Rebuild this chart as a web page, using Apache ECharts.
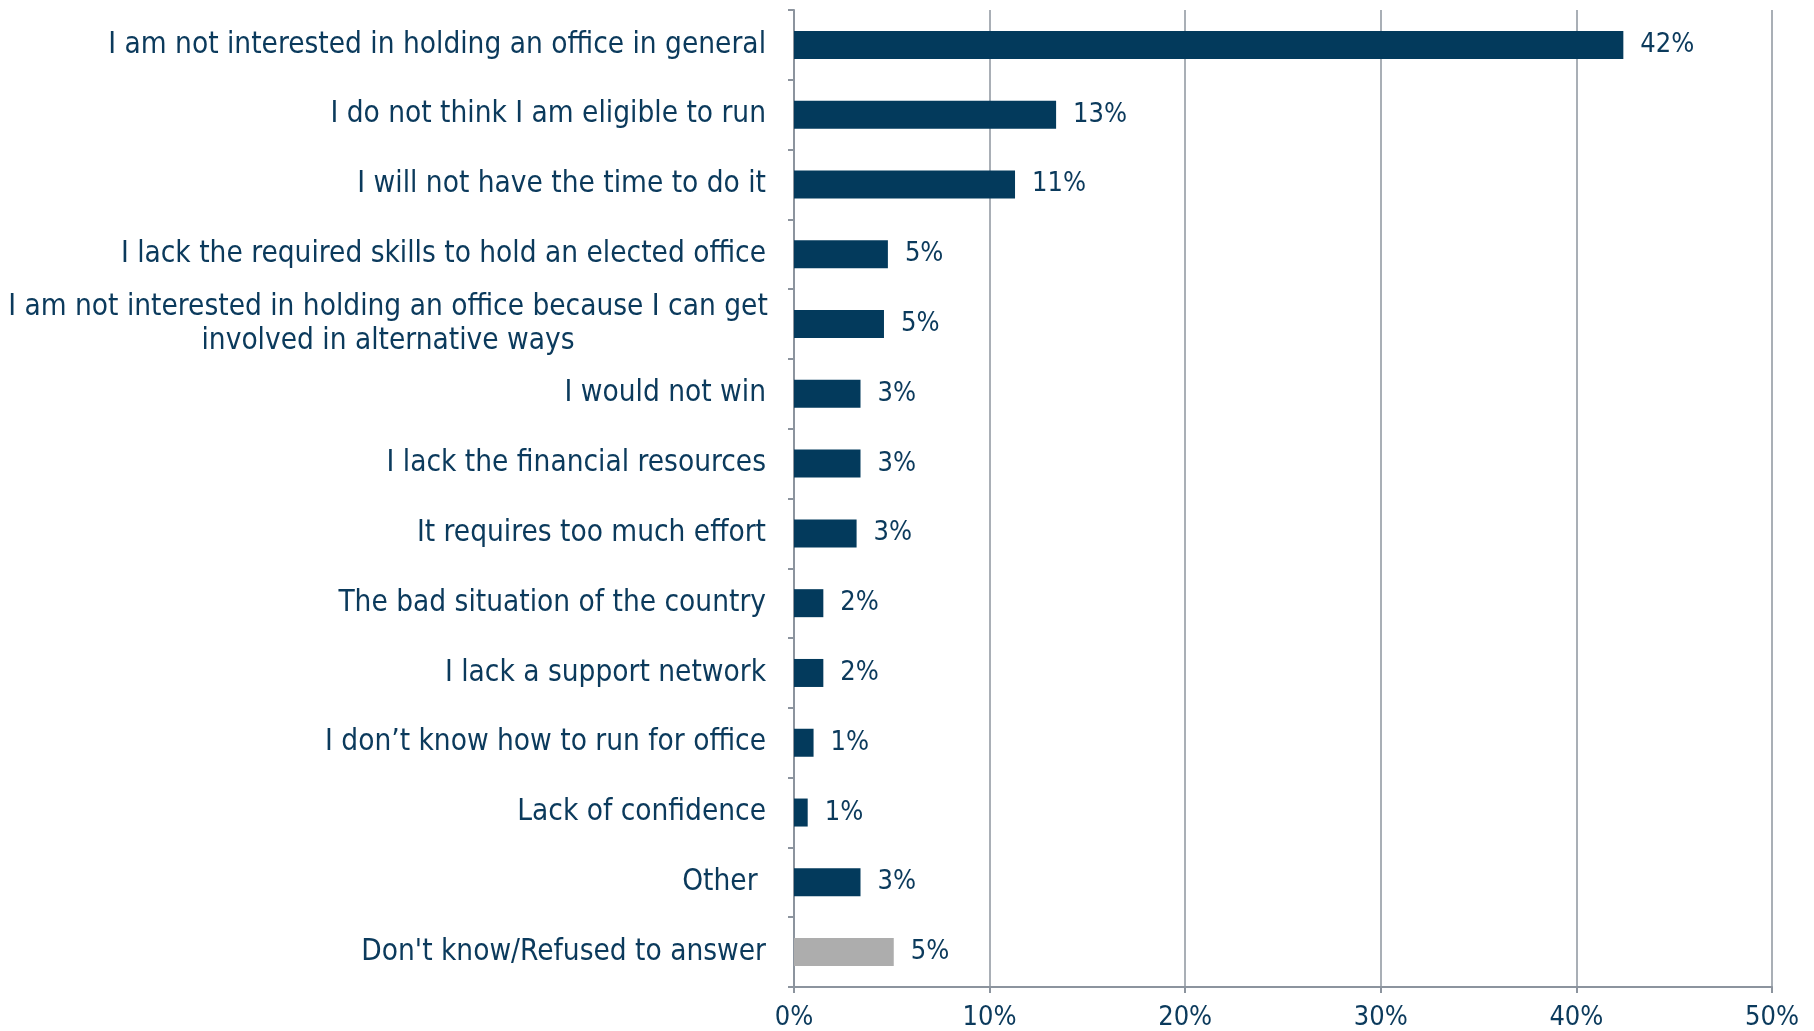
<!DOCTYPE html>
<html>
<head>
<meta charset="utf-8">
<script src="https://cdn.jsdelivr.net/npm/echarts@6/dist/echarts.min.js"></script>
<style>
html, body { margin: 0; padding: 0; background: #fff; }
#chart { width: 1814px; height: 1031px; }
</style>
</head>
<body>
<div id="chart"></div>
<script>
var categories = [
  'I am not interested in holding an office in general',
  'I do not think I am eligible to run',
  'I will not have the time to do it',
  'I lack the required skills to hold an elected office',
  'I am not interested in holding an office because I can get\ninvolved in alternative ways',
  'I would not win',
  'I lack the financial resources',
  'It requires too much effort',
  'The bad situation of the country',
  'I lack a support network',
  'I don\u2019t know how to run for office',
  'Lack of confidence',
  'Other ',
  'Don\'t know/Refused to answer'
];
var values = [42.4, 13.4, 11.3, 4.8, 4.6, 3.4, 3.4, 3.2, 1.5, 1.5, 1.0, 0.7, 3.4, 5.1];
var xTicks = [0, 10, 20, 30, 40, 50];

var navy = '#033a5c';
var grey = '#adadad';
var textColor = '#0b3a5c';
var lineColor = '#8c949e';
var font = '"DejaVu Sans Condensed", "DejaVu Sans", sans-serif';
var numFont = '"Liberation Sans Narrow", "DejaVu Sans Condensed", sans-serif';

var myChart = echarts.init(document.getElementById('chart'));
var option = {
  animation: false,
  grid: {
    left: 794,
    right: 42,
    top: 10,
    bottom: 41,
    containLabel: false
  },
  xAxis: {
    type: 'value',
    min: xTicks[0],
    max: xTicks[xTicks.length - 1],
    interval: 10,
    axisLine: { show: true, lineStyle: { color: lineColor, width: 2 } },
    axisTick: { show: true, length: 6, lineStyle: { color: lineColor, width: 2 } },
    splitLine: { show: true, lineStyle: { color: lineColor, width: 1.5 } },
    axisLabel: {
      color: textColor,
      fontFamily: numFont,
      fontSize: 27,
      margin: 17,
      formatter: function (v) { return v + '%'; }
    }
  },
  yAxis: {
    type: 'category',
    inverse: true,
    data: categories,
    axisLine: { show: true, lineStyle: { color: lineColor, width: 2 } },
    axisTick: { show: true, length: 6, lineStyle: { color: lineColor, width: 2 } },
    axisLabel: {
      color: textColor,
      fontFamily: font,
      fontSize: 29.5,
      margin: 28,
      lineHeight: 34,
      formatter: function (v) {
        return v.indexOf('\n') >= 0 ? '{c|' + v.split('\n').join('}\n{c|') + '}' : v;
      },
      rich: {
        c: {
          width: 756,
          align: 'center',
          color: textColor,
          fontFamily: font,
          fontSize: 29.5,
          lineHeight: 34
        }
      }
    }
  },
  series: [
    {
      type: 'bar',
      barWidth: 28,
      data: values.map(function (v, i) {
        return {
          value: v,
          itemStyle: { color: i === values.length - 1 ? grey : navy }
        };
      }),
      label: {
        show: true,
        position: 'right',
        distance: 17,
        color: textColor,
        fontFamily: numFont,
        fontSize: 27,
        formatter: function (p) { return Math.round(p.value) + '%'; }
      }
    }
  ]
};
myChart.setOption(option);
</script>
</body>
</html>
